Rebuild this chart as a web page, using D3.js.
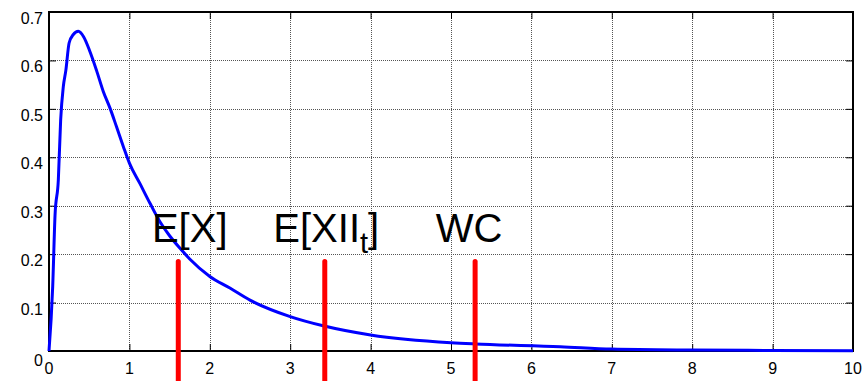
<!DOCTYPE html>
<meta charset="utf-8" />
<title>Density with E[X] markers</title>
<script src="https://cdn.jsdelivr.net/npm/d3@7"></script>

<style>
  body {
    margin: 0;
    padding: 0;
    background: #fff;
    font-family: "Liberation Sans", Arial, Helvetica, sans-serif;
  }

  .grid line {
    stroke: #555;
    stroke-width: 1;
    stroke-dasharray: 1, 1;
    shape-rendering: crispEdges;
  }

  .curve {
    fill: none;
    stroke: #0000ff;
    stroke-width: 3;
    stroke-linejoin: round;
  }

  .marker {
    stroke: #ff0000;
    stroke-width: 5;
    stroke-linecap: round;
  }

  .tick-label {
    font-size: 16px;
    fill: #000;
  }

  .note {
    font-size: 40px;
    fill: #000;
  }
</style>

<body>
  <div id="chart"></div>
</body>

<script>
  // curve
  var xs = [0, 0.046, 0.075, 0.116, 0.145, 0.178, 0.21, 0.25, 0.30, 0.365, 0.43,
    0.51, 0.59, 0.675, 0.76, 0.84, 0.925, 1.0, 1.13, 1.256, 1.38, 1.5, 1.63,
    1.75, 2.0, 2.25, 2.5, 3.0, 3.41, 4.0, 5.0, 5.3, 6.36, 7.0, 8.0, 9.0, 10.0];
  var ys = [0, 0.133, 0.28, 0.353, 0.477, 0.546, 0.58, 0.636, 0.653, 0.66, 0.649,
    0.618, 0.58, 0.536, 0.501, 0.463, 0.422, 0.388, 0.346, 0.305, 0.267, 0.238, 0.212,
    0.19, 0.154, 0.13, 0.105, 0.071, 0.052, 0.033, 0.017, 0.0145, 0.009, 0.004, 0.002, 0.0012, 0.0005];

  var xTicks = [0, 1, 2, 3, 4, 5, 6, 7, 8, 9, 10];
  var yTicks = [0, 0.1, 0.2, 0.3, 0.4, 0.5, 0.6, 0.7];

  // vertical markers and their labels (data units)
  var markerX = [1.608, 3.43, 5.30];
  var markerTop = 0.185;
  var markerBottom = -0.08;
  var labelX = [1.28, 2.79, 4.81];
  var labelY = 0.226;
  var labels = [["E[X]", ""], ["E[XII", "t", "]"], ["WC", ""]];

  var W = 866, H = 381;
  var margin = { top: 12, right: 13, bottom: 30, left: 49 };

  var x = d3.scaleLinear().domain([0, 10]).range([margin.left, W - margin.right]);
  var y = d3.scaleLinear().domain([0, 0.7]).range([H - margin.bottom, margin.top]);

  var svg = d3.select("#chart").append("svg")
    .attr("width", W)
    .attr("height", H);

  // grid
  var grid = svg.append("g").attr("class", "grid");
  grid.selectAll(".gx").data(xTicks.slice(1, -1)).enter().append("line")
    .attr("x1", function (d) { return Math.round(x(d)) + 0.5; })
    .attr("x2", function (d) { return Math.round(x(d)) + 0.5; })
    .attr("y1", y(0.7))
    .attr("y2", y(0));
  grid.selectAll(".gy").data(yTicks.slice(1, -1)).enter().append("line")
    .attr("x1", x(0))
    .attr("x2", x(10))
    .attr("y1", function (d) { return Math.round(y(d)) + 0.5; })
    .attr("y2", function (d) { return Math.round(y(d)) + 0.5; });

  // inward ticks on all four sides
  var axB = svg.append("g").attr("transform", "translate(0," + y(0) + ")")
    .call(d3.axisBottom(x).tickValues(xTicks).tickSize(-7).tickFormat(""));
  var axT = svg.append("g").attr("transform", "translate(0," + y(0.7) + ")")
    .call(d3.axisTop(x).tickValues(xTicks).tickSize(-7).tickFormat(""));
  var axL = svg.append("g").attr("transform", "translate(" + x(0) + ",0)")
    .call(d3.axisLeft(y).tickValues(yTicks).tickSize(-7).tickFormat(""));
  var axR = svg.append("g").attr("transform", "translate(" + x(10) + ",0)")
    .call(d3.axisRight(y).tickValues(yTicks).tickSize(-7).tickFormat(""));
  [axB, axT, axL, axR].forEach(function (a) {
    a.select(".domain").remove();
    a.selectAll("line").attr("stroke", "#000").attr("stroke-width", 1);
  });

  // frame
  svg.append("rect")
    .attr("x", x(0))
    .attr("y", y(0.7))
    .attr("width", x(10) - x(0))
    .attr("height", y(0) - y(0.7))
    .attr("fill", "none")
    .attr("stroke", "#000")
    .attr("stroke-width", 2);

  // tick labels
  svg.selectAll(".xl").data(xTicks).enter().append("text")
    .attr("class", "tick-label")
    .attr("x", function (d) { return x(d); })
    .attr("y", y(0) + 23)
    .attr("text-anchor", "middle")
    .text(function (d) { return d; });
  svg.selectAll(".yl").data(yTicks).enter().append("text")
    .attr("class", "tick-label")
    .attr("x", x(0) - 6)
    .attr("y", function (d) { return y(d) + (d === 0 ? 15 : 12); })
    .attr("text-anchor", "end")
    .text(function (d) { return d === 0 ? "0" : d3.format(".1f")(d); });

  // density curve
  var line = d3.line()
    .x(function (d, i) { return x(xs[i]); })
    .y(function (d) { return y(d); })
    .curve(d3.curveMonotoneX);

  svg.append("path")
    .datum(ys)
    .attr("class", "curve")
    .attr("d", line);

  // markers
  svg.selectAll(".marker").data(markerX).enter().append("line")
    .attr("class", "marker")
    .attr("x1", function (d) { return x(d); })
    .attr("x2", function (d) { return x(d); })
    .attr("y1", y(markerTop))
    .attr("y2", y(markerBottom));

  // labels
  labels.forEach(function (l, i) {
    var t = svg.append("text")
      .attr("class", "note")
      .attr("x", x(labelX[i]))
      .attr("y", y(labelY));
    t.append("tspan").text(l[0]);
    if (l[1]) {
      t.append("tspan").attr("dy", 11).style("font-size", "29px").text(l[1]);
      t.append("tspan").attr("dy", -11).text(l[2]);
    }
  });
</script>
